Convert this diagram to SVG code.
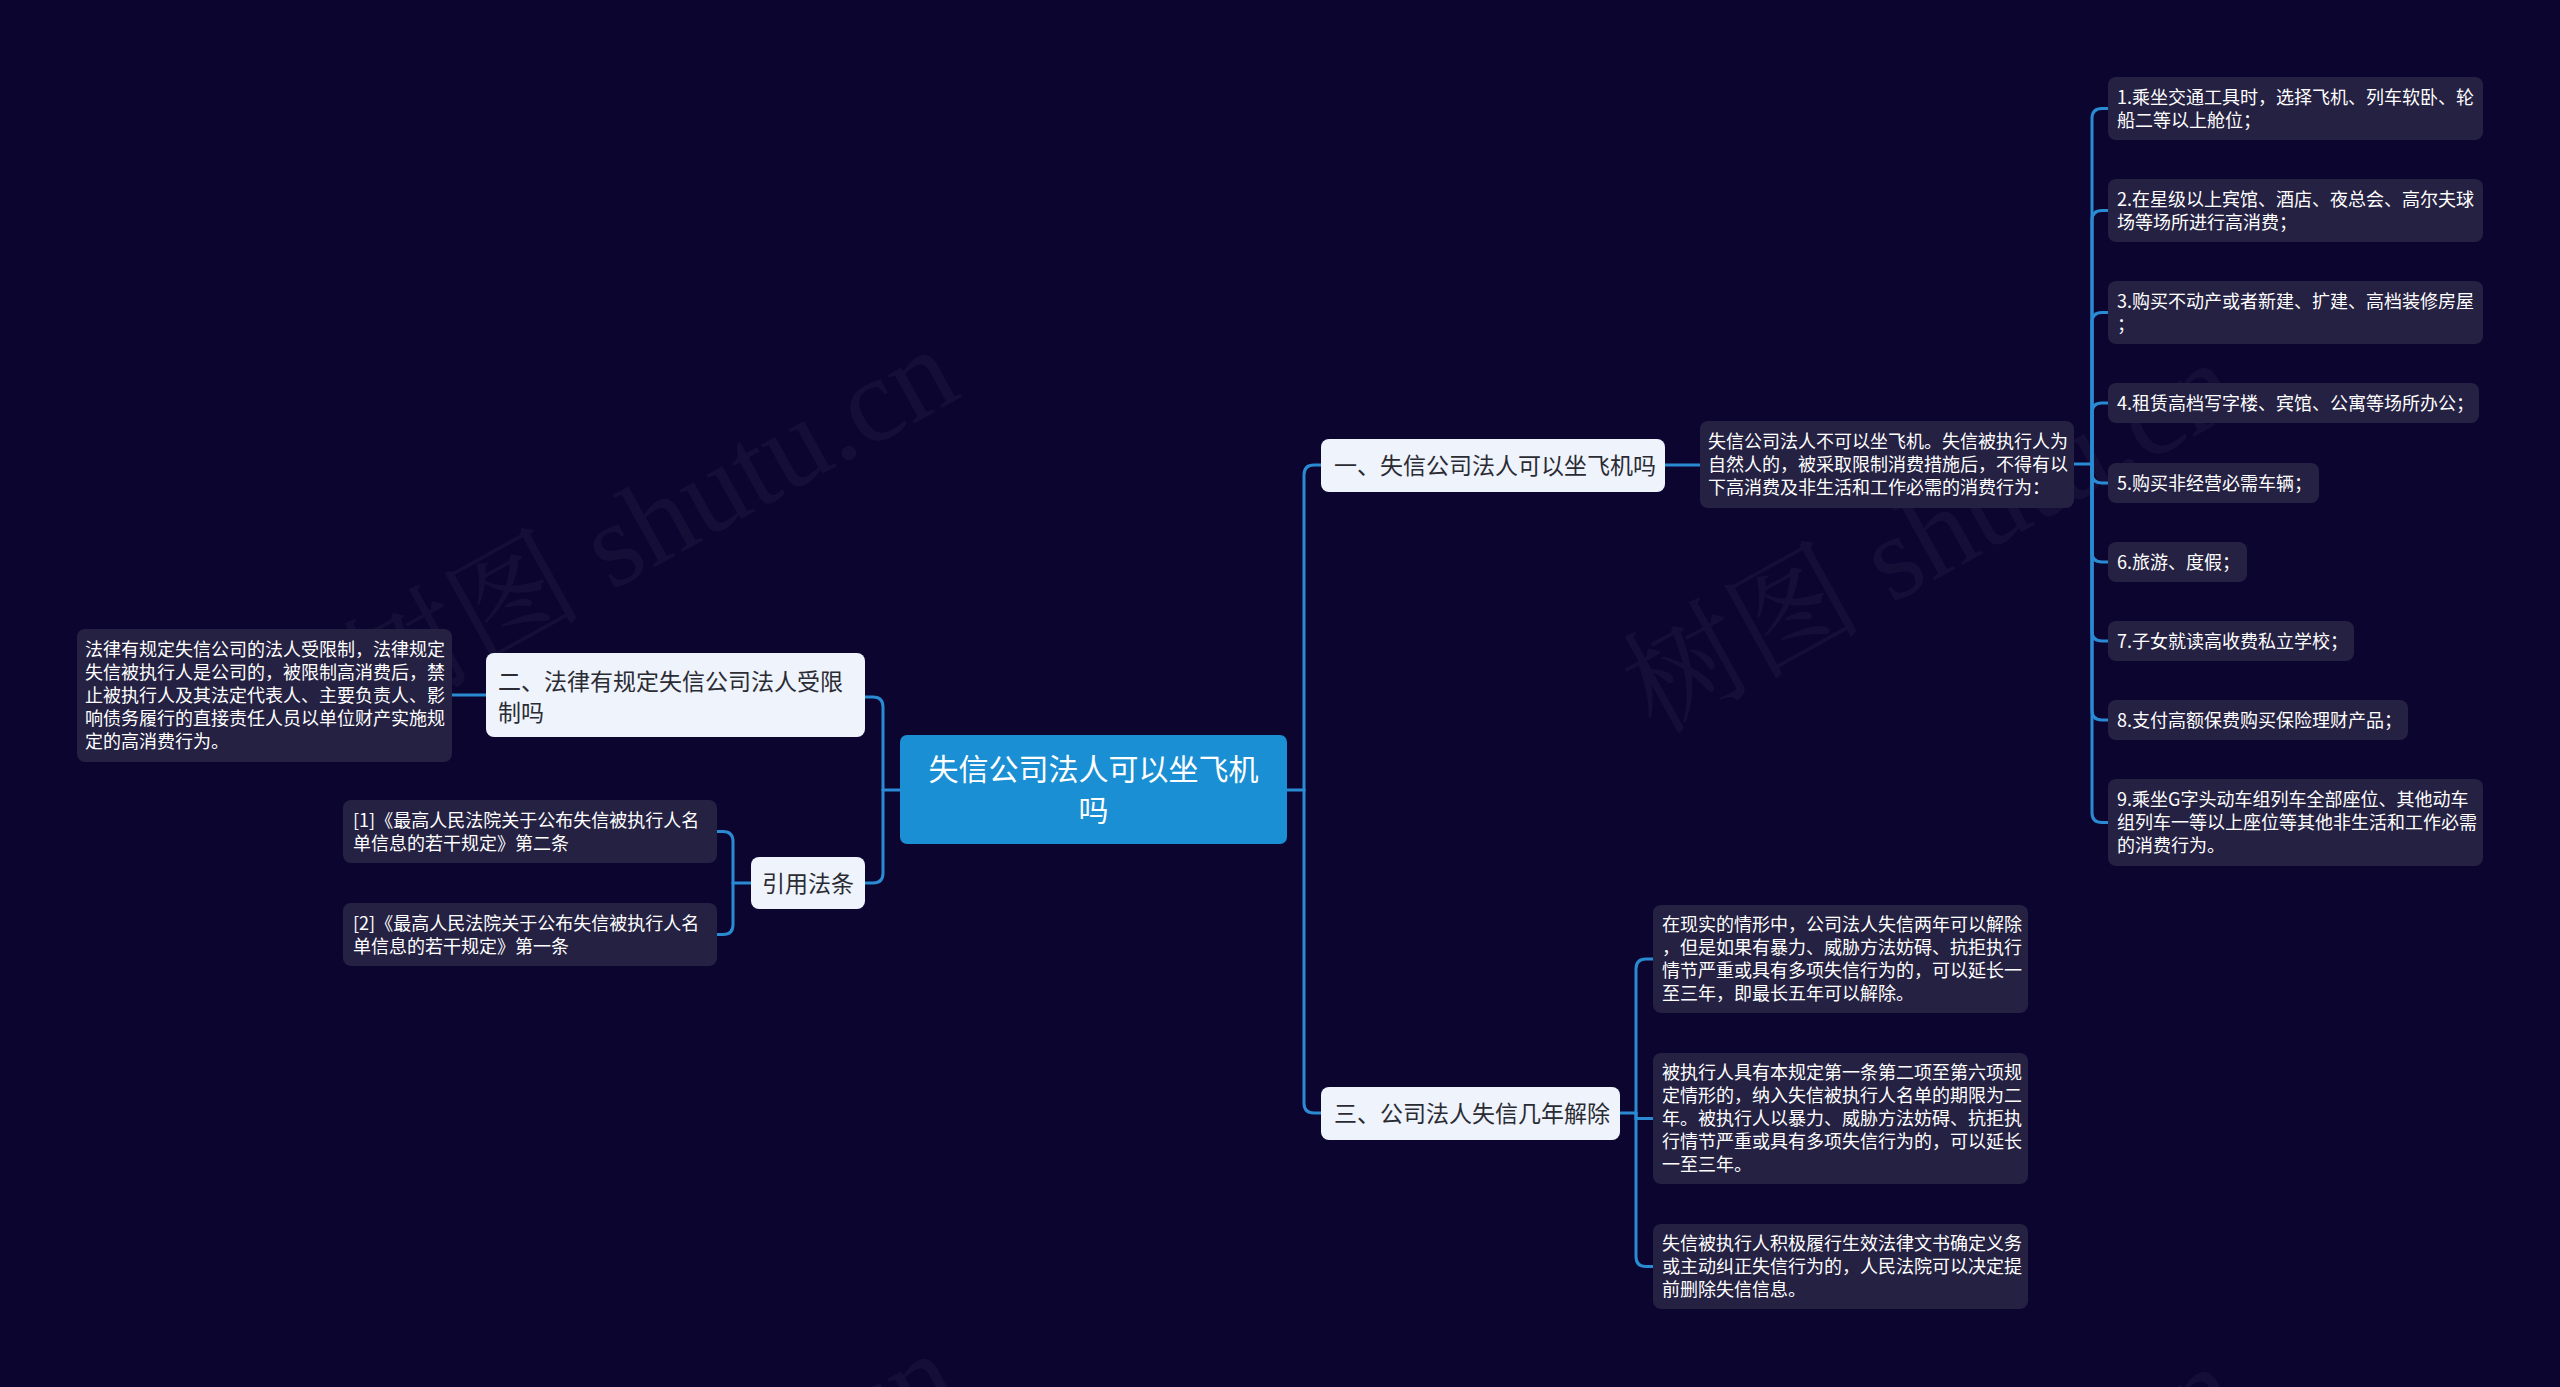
<svg xmlns="http://www.w3.org/2000/svg" width="2560" height="1387" viewBox="0 0 2560 1387">
<defs>
<style>
.bg{fill:#0b0530}
.wm{font-family:"Liberation Serif","Noto Serif CJK SC","Noto Sans CJK SC",serif;font-size:120px;fill:#ffffff;fill-opacity:0.045}
.conn{fill:none;stroke:#2a8bd3;stroke-width:3;stroke-linecap:round}
.root rect{fill:#1b8fd3}
.root text{font-family:"Noto Sans CJK SC","Microsoft YaHei",sans-serif;font-size:30px;fill:#ffffff;text-anchor:middle}
.l1 rect{fill:#eef3fc}
.l1 text{font-family:"Noto Sans CJK SC","Microsoft YaHei",sans-serif;font-size:23px;fill:#2b2b33}
.leaf rect{fill:#252142}
.leaf text{font-family:"Noto Sans CJK SC","Microsoft YaHei",sans-serif;font-size:18px;fill:#ffffff}
</style>
</defs>
<rect class="bg" x="0" y="0" width="2560" height="1387"/>
<g id="watermarks">
<text class="wm" transform="translate(375,722) rotate(-29)">树图 shutu.cn</text>
<text class="wm" transform="translate(1655,735) rotate(-29)">树图 shutu.cn</text>
<text class="wm" transform="translate(375,1726) rotate(-29)">树图 shutu.cn</text>
<text class="wm" transform="translate(1655,1739) rotate(-29)">树图 shutu.cn</text>
</g>
<g id="connectors">
<path class="conn" d="M1287,790 H1304"/>
<path class="conn" d="M1304,790 V475 Q1304,465 1314,465 H1321"/>
<path class="conn" d="M1304,790 V1103 Q1304,1113 1314,1113 H1321"/>
<path class="conn" d="M1665,465 H1700"/>
<path class="conn" d="M2074,464 H2092"/>
<path class="conn" d="M2092,464 V118.5 Q2092,108.5 2102,108.5 H2108"/>
<path class="conn" d="M2092,464 V220.5 Q2092,210.5 2102,210.5 H2108"/>
<path class="conn" d="M2092,464 V322.5 Q2092,312.5 2102,312.5 H2108"/>
<path class="conn" d="M2092,464 V413 Q2092,403 2102,403 H2108"/>
<path class="conn" d="M2092,464 V473 Q2092,483 2102,483 H2108"/>
<path class="conn" d="M2092,464 V552 Q2092,562 2102,562 H2108"/>
<path class="conn" d="M2092,464 V631 Q2092,641 2102,641 H2108"/>
<path class="conn" d="M2092,464 V710 Q2092,720 2102,720 H2108"/>
<path class="conn" d="M2092,464 V812.5 Q2092,822.5 2102,822.5 H2108"/>
<path class="conn" d="M1620,1113 H1636"/>
<path class="conn" d="M1636,1113 V969 Q1636,959 1646,959 H1653"/>
<path class="conn" d="M1636,1113 V1118.5 H1653"/>
<path class="conn" d="M1636,1113 V1256.5 Q1636,1266.5 1646,1266.5 H1653"/>
<path class="conn" d="M900,790 H883"/>
<path class="conn" d="M883,790 V707 Q883,697 873,697 H865"/>
<path class="conn" d="M883,790 V873 Q883,883 873,883 H865"/>
<path class="conn" d="M486,695 H452"/>
<path class="conn" d="M751,883 H733"/>
<path class="conn" d="M733,883 V841.5 Q733,831.5 723,831.5 H717"/>
<path class="conn" d="M733,883 V924.5 Q733,934.5 723,934.5 H717"/>
</g>
<g id="root" class="root">
<rect x="900" y="735" width="387" height="109" rx="7"/>
<text x="1093.5" y="780">失信公司法人可以坐飞机</text>
<text x="1093.5" y="821">吗</text>
</g>
<g id="n1" class="l1">
<rect x="1321" y="439" width="344" height="53" rx="8"/>
<text x="1334" y="474">一、失信公司法人可以坐飞机吗</text>
</g>
<g id="n2" class="l1">
<rect x="486" y="653" width="379" height="84" rx="8"/>
<text x="498" y="690">二、法律有规定失信公司法人受限</text>
<text x="498" y="721">制吗</text>
</g>
<g id="n3" class="l1">
<rect x="1321" y="1087" width="299" height="53" rx="8"/>
<text x="1334" y="1122">三、公司法人失信几年解除</text>
</g>
<g id="n4" class="l1">
<rect x="751" y="857" width="114" height="52" rx="8"/>
<text x="762" y="892">引用法条</text>
</g>
<g id="d1" class="leaf">
<rect x="1700" y="421" width="374" height="87" rx="8"/>
<text x="1708" y="448">失信公司法人不可以坐飞机。失信被执行人为</text>
<text x="1708" y="471">自然人的，被采取限制消费措施后，不得有以</text>
<text x="1708" y="494">下高消费及非生活和工作必需的消费行为：</text>
</g>
<g id="i1" class="leaf">
<rect x="2108" y="77" width="375" height="63" rx="8"/>
<text x="2117" y="104">1.乘坐交通工具时，选择飞机、列车软卧、轮</text>
<text x="2117" y="127">船二等以上舱位；</text>
</g>
<g id="i2" class="leaf">
<rect x="2108" y="179" width="375" height="63" rx="8"/>
<text x="2117" y="206">2.在星级以上宾馆、酒店、夜总会、高尔夫球</text>
<text x="2117" y="229">场等场所进行高消费；</text>
</g>
<g id="i3" class="leaf">
<rect x="2108" y="281" width="375" height="63" rx="8"/>
<text x="2117" y="308">3.购买不动产或者新建、扩建、高档装修房屋</text>
<text x="2117" y="331">；</text>
</g>
<g id="i4" class="leaf">
<rect x="2108" y="383" width="371" height="40" rx="8"/>
<text x="2117" y="410">4.租赁高档写字楼、宾馆、公寓等场所办公；</text>
</g>
<g id="i5" class="leaf">
<rect x="2108" y="463" width="211" height="40" rx="8"/>
<text x="2117" y="490">5.购买非经营必需车辆；</text>
</g>
<g id="i6" class="leaf">
<rect x="2108" y="542" width="139" height="40" rx="8"/>
<text x="2117" y="569">6.旅游、度假；</text>
</g>
<g id="i7" class="leaf">
<rect x="2108" y="621" width="246" height="40" rx="8"/>
<text x="2117" y="648">7.子女就读高收费私立学校；</text>
</g>
<g id="i8" class="leaf">
<rect x="2108" y="700" width="300" height="40" rx="8"/>
<text x="2117" y="727">8.支付高额保费购买保险理财产品；</text>
</g>
<g id="i9" class="leaf">
<rect x="2108" y="779" width="375" height="87" rx="8"/>
<text x="2117" y="806">9.乘坐G字头动车组列车全部座位、其他动车</text>
<text x="2117" y="829">组列车一等以上座位等其他非生活和工作必需</text>
<text x="2117" y="852">的消费行为。</text>
</g>
<g id="d3a" class="leaf">
<rect x="1653" y="905" width="375" height="108" rx="8"/>
<text x="1662" y="931">在现实的情形中，公司法人失信两年可以解除</text>
<text x="1662" y="954">，但是如果有暴力、威胁方法妨碍、抗拒执行</text>
<text x="1662" y="977">情节严重或具有多项失信行为的，可以延长一</text>
<text x="1662" y="1000">至三年，即最长五年可以解除。</text>
</g>
<g id="d3b" class="leaf">
<rect x="1653" y="1053" width="375" height="131" rx="8"/>
<text x="1662" y="1079">被执行人具有本规定第一条第二项至第六项规</text>
<text x="1662" y="1102">定情形的，纳入失信被执行人名单的期限为二</text>
<text x="1662" y="1125">年。被执行人以暴力、威胁方法妨碍、抗拒执</text>
<text x="1662" y="1148">行情节严重或具有多项失信行为的，可以延长</text>
<text x="1662" y="1171">一至三年。</text>
</g>
<g id="d3c" class="leaf">
<rect x="1653" y="1224" width="375" height="85" rx="8"/>
<text x="1662" y="1250">失信被执行人积极履行生效法律文书确定义务</text>
<text x="1662" y="1273">或主动纠正失信行为的，人民法院可以决定提</text>
<text x="1662" y="1296">前删除失信信息。</text>
</g>
<g id="d2" class="leaf">
<rect x="77" y="629" width="375" height="133" rx="8"/>
<text x="85" y="656">法律有规定失信公司的法人受限制，法律规定</text>
<text x="85" y="679">失信被执行人是公司的，被限制高消费后，禁</text>
<text x="85" y="702">止被执行人及其法定代表人、主要负责人、影</text>
<text x="85" y="725">响债务履行的直接责任人员以单位财产实施规</text>
<text x="85" y="748">定的高消费行为。</text>
</g>
<g id="c1" class="leaf">
<rect x="343" y="800" width="374" height="63" rx="8"/>
<text x="353" y="827">[1]《最高人民法院关于公布失信被执行人名</text>
<text x="353" y="850">单信息的若干规定》第二条</text>
</g>
<g id="c2" class="leaf">
<rect x="343" y="903" width="374" height="63" rx="8"/>
<text x="353" y="930">[2]《最高人民法院关于公布失信被执行人名</text>
<text x="353" y="953">单信息的若干规定》第一条</text>
</g>
</svg>
